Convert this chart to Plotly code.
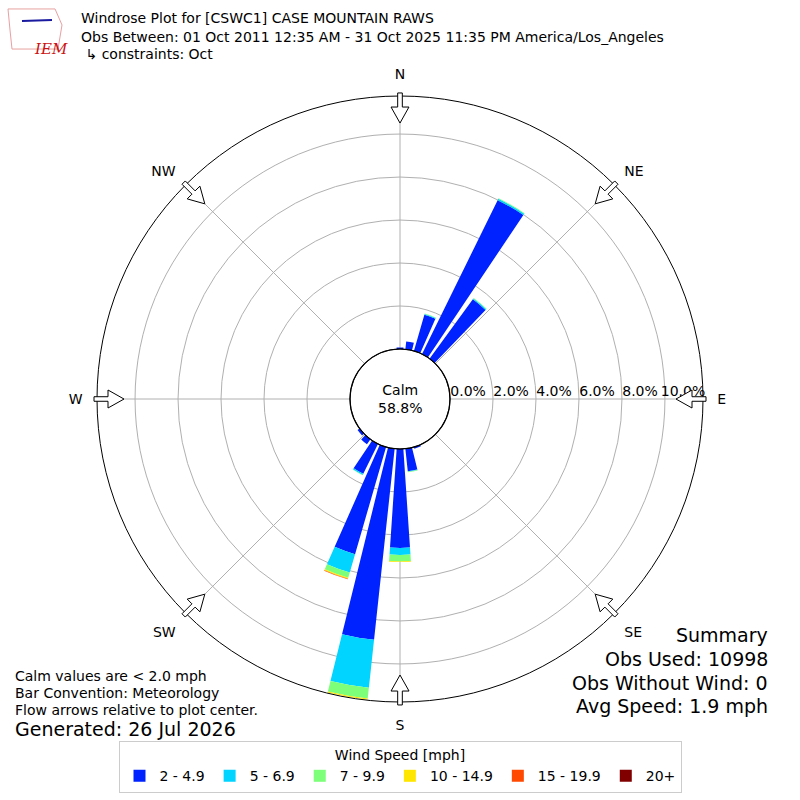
import numpy as np
import plotly.graph_objects as go

# direction bins (degrees, meteorological) and speed bins
directions = [0, 10, 20, 30, 40, 160, 170, 180, 190, 200, 210, 220, 230]
speed_bins = ["2 - 4.9", "5 - 6.9", "7 - 9.9", "10 - 14.9", "15 - 19.9", "20+"]
bin_colors = ["#0022ff", "#00d4ff", "#7dff7a", "#ffe600", "#ff4800", "#800000"]

# percent of observations per direction, one list per speed bin
pct_2_5 = [0.07, 0.37, 1.75, 7.98, 3.42, 0.08, 1.05, 4.60, 8.94, 5.19, 1.55, 0.28, 0.12]
pct_5_7 = [0.00, 0.00, 0.04, 0.07, 0.05, 0.00, 0.03, 0.33, 2.25, 0.89, 0.06, 0.00, 0.00]
pct_7_10 = [0.00, 0.00, 0.02, 0.03, 0.02, 0.00, 0.02, 0.30, 0.50, 0.25, 0.02, 0.00, 0.00]
pct_10_15 = [0.00, 0.00, 0.00, 0.00, 0.00, 0.00, 0.00, 0.03, 0.05, 0.05, 0.00, 0.00, 0.00]
pct_15_20 = [0.00, 0.00, 0.00, 0.00, 0.00, 0.00, 0.00, 0.00, 0.00, 0.03, 0.00, 0.00, 0.00]
pct_20 = [0.00] * len(directions)

calm_pct = 58.8
radial_ticks = [0, 2, 4, 6, 8, 10]
compass = ["N", "NE", "E", "SE", "S", "SW", "W", "NW"]
compass_deg = [0, 45, 90, 135, 180, 225, 270, 315]

series = [pct_2_5, pct_5_7, pct_7_10, pct_10_15, pct_15_20, pct_20]

fig = go.Figure()
for name, color, vals in zip(speed_bins, bin_colors, series):
    fig.add_trace(go.Barpolar(r=vals, theta=directions, width=7.7, name=name,
                              marker=dict(color=color, line=dict(width=0))))
# empty trace on an overlay subplot that only carries the % labels
fig.add_trace(go.Barpolar(r=[], theta=[], subplot="polar2", showlegend=False))

W = H = 800
cx, cy, R = 400, 399, 303
rmax = 11.77
label_shift = 0.84   # labels sit just right of their ring, like the original

dom = dict(x=[(cx - R) / W, (cx + R) / W], y=[1 - (cy + R) / H, 1 - (cy - R) / H])

fig.update_layout(
    width=W, height=H,
    margin=dict(l=0, r=0, t=0, b=0),
    paper_bgcolor="white",
    font=dict(family="DejaVu Sans", size=14, color="black"),
    polar=dict(
        domain=dom, bgcolor="white", hole=50 / R, barmode="stack",
        radialaxis=dict(range=[0, rmax], tickvals=radial_ticks, showticklabels=False,
                        angle=0, showline=False, ticks="",
                        gridcolor="#b0b0b0", gridwidth=1, layer="above traces"),
        angularaxis=dict(direction="clockwise", rotation=90, tickvals=compass_deg,
                         ticktext=compass, showline=True, linecolor="black", linewidth=1,
                         gridcolor="#b0b0b0", gridwidth=1, ticks="outside", ticklen=11,
                         tickcolor="rgba(0,0,0,0)", layer="above traces",
                         tickfont=dict(size=14)),
    ),
    polar2=dict(
        domain=dom, bgcolor="rgba(0,0,0,0)", hole=50 / R,
        radialaxis=dict(range=[0, rmax], tickvals=[v + label_shift for v in radial_ticks],
                        ticktext=["%.1f%%" % v for v in radial_ticks],
                        angle=0, tickangle=0, side="counterclockwise", showline=False,
                        ticks="", showgrid=False, tickfont=dict(size=14)),
        angularaxis=dict(visible=False, direction="clockwise", rotation=90),
    ),
    legend=dict(orientation="h", x=0.5, xanchor="center", y=1 - 741 / H, yanchor="top",
                title=dict(text="Wind Speed [mph]", side="top center", font=dict(size=14)),
                bordercolor="#cccccc", borderwidth=1, font=dict(size=14),
                itemwidth=30, traceorder="normal"),
)

# hollow flow arrows pointing toward the plot center
shapes = []
for d in compass_deg:
    a = np.deg2rad(d)
    ur = np.array([np.sin(a), -np.cos(a)])   # outward, screen px
    ut = np.array([np.cos(a), np.sin(a)])
    pts = [(306, -2.3), (292, -2.3), (292, -9), (276, 0), (292, 9), (292, 2.3), (306, 2.3)]
    path = ""
    for i, (rr, tt) in enumerate(pts):
        p = np.array([cx, cy]) + rr * ur + tt * ut
        path += ("M" if i == 0 else "L") + "%.4f,%.4f" % (p[0] / W, 1 - p[1] / H)
    shapes.append(dict(type="path", path=path + "Z", xref="paper", yref="paper",
                       fillcolor="white", line=dict(color="black", width=1)))

# calm circle outline
shapes.append(dict(type="circle", xref="paper", yref="paper",
                   x0=(cx - 50) / W, x1=(cx + 50) / W, y0=1 - (cy + 50) / H, y1=1 - (cy - 50) / H,
                   line=dict(color="black", width=1.2)))

# simple logo outline
shapes.append(dict(type="path", xref="paper", yref="paper",
                   path="M%.4f,%.4fL%.4f,%.4fL%.4f,%.4fL%.4f,%.4fL%.4f,%.4fL%.4f,%.4fZ" % (
                       8 / W, 1 - 9 / H, 55 / W, 1 - 9 / H, 62 / W, 1 - 25 / H,
                       58 / W, 1 - 49 / H, 12 / W, 1 - 49 / H, 10 / W, 1 - 30 / H),
                   line=dict(color="#e8a0a0", width=1)))
shapes.append(dict(type="line", xref="paper", yref="paper", x0=22 / W, x1=52 / W,
                   y0=1 - 21 / H, y1=1 - 20 / H, line=dict(color="#1a1aa0", width=2)))
fig.update_layout(shapes=shapes)


def note(text, x, y, size=14, anchor="left"):
    fig.add_annotation(text=text, x=x / W, y=1 - y / H, xref="paper", yref="paper",
                       xanchor=anchor, yanchor="middle", showarrow=False,
                       font=dict(size=size, color="black"))


note("Windrose Plot for [CSWC1] CASE MOUNTAIN RAWS", 79, 18)
note("Obs Between: 01 Oct 2011 12:35 AM - 31 Oct 2025 11:35 PM America/Los_Angeles", 79, 37)
note(" \u21b3 constraints: Oct", 79, 54)
fig.add_annotation(text="<i>IEM</i>", x=32 / W, y=1 - 38 / H, xref="paper", yref="paper",
                   showarrow=False, font=dict(family="DejaVu Serif", size=15, color="#cc1111"))

note("Calm<br>%.1f%%" % calm_pct, cx, cy, anchor="center")

note("Summary", 770, 635, 19, "right")
note("Obs Used: 10998", 770, 659, 19, "right")
note("Obs Without Wind: 0", 770, 683, 19, "right")
note("Avg Speed: 1.9 mph", 770, 706, 19, "right")

note("Calm values are < 2.0 mph", 13, 676)
note("Bar Convention: Meteorology", 13, 693)
note("Flow arrows relative to plot center.", 13, 710)
note("Generated: 26 Jul 2026", 13, 729, 19)

fig.write_html("out.html", config={"displayModeBar": False},
               post_script="document.body.style.margin='0';")
